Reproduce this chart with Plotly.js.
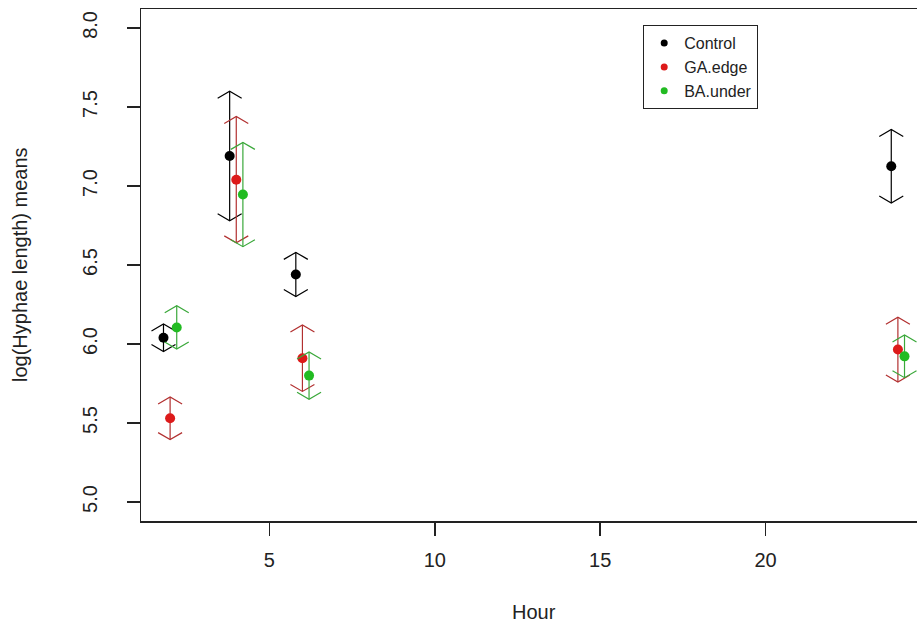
<!DOCTYPE html>
<html>
<head>
<meta charset="utf-8">
<script src="https://cdn.plot.ly/plotly-3.0.1.min.js"></script>
<style>
html, body { margin: 0; padding: 0; overflow: hidden; background: #fff; }
#chart { width: 940px; height: 627px; }
</style>
</head>
<body>
<div id="chart"></div>
<script>
// ---- data ----
const seriesNames = ["Control", "GA.edge", "BA.under"];
const xControl = [1.8, 3.8, 5.8, 23.8];
const xGA      = [2.0, 4.0, 6.0, 24.0];
const xBA      = [2.2, 4.2, 6.2, 24.2];
const meanControl = [6.04, 7.19, 6.44, 7.125];
const meanGA      = [5.53, 7.04, 5.91, 5.965];
const meanBA      = [6.105, 6.946, 5.80, 5.922];
const errControl = [0.087, 0.41, 0.14, 0.233];
const errGA      = [0.135, 0.40, 0.21, 0.205];
const errBA      = [0.137, 0.33, 0.15, 0.135];
const xTicks = [5, 10, 15, 20];
const yTicks = [5.0, 5.5, 6.0, 6.5, 7.0, 7.5, 8.0];
const yTickText = ["5.0", "5.5", "6.0", "6.5", "7.0", "7.5", "8.0"];

// ---- styling ----
const pointColors = ["#000000", "#dd1a1a", "#22bb22"];
const lineColors  = ["#000000", "#b23030", "#3aa83a"];
const xRange = [1.12, 24.88];
const yRange = [4.88, 8.12];
const plotW = 786, plotH = 512;
const headHalfWpx = 12, headHpx = 7;
const dx = headHalfWpx * (xRange[1] - xRange[0]) / plotW;
const dy = headHpx * (yRange[1] - yRange[0]) / plotH;

function arrowTrace(xs, ms, es, color) {
  const X = [], Y = [];
  for (let i = 0; i < xs.length; i++) {
    const x = xs[i], hi = ms[i] + es[i], lo = ms[i] - es[i];
    X.push(x, x, null); Y.push(lo, hi, null);
    X.push(x - dx, x, x + dx, null); Y.push(hi - dy, hi, hi - dy, null);
    X.push(x - dx, x, x + dx, null); Y.push(lo + dy, lo, lo + dy, null);
  }
  return { x: X, y: Y, type: "scatter", mode: "lines", showlegend: false, hoverinfo: "skip",
           line: { color: color, width: 1.2 }, connectgaps: false };
}
function pointTrace(xs, ms, color, name) {
  return { x: xs, y: ms, type: "scatter", mode: "markers", name: name, showlegend: false,
           marker: { color: color, size: 10, symbol: "circle" } };
}
function legendTrace(color, name) {
  return { x: [null], y: [null], type: "scatter", mode: "markers", name: name, showlegend: true,
           marker: { color: color, size: 7, symbol: "circle" } };
}

const xs = [xControl, xGA, xBA], ms = [meanControl, meanGA, meanBA], es = [errControl, errGA, errBA];
const data = [];
for (let s = 0; s < 3; s++) {
  data.push(arrowTrace(xs[s], ms[s], es[s], lineColors[s]));
  data.push(pointTrace(xs[s], ms[s], pointColors[s], seriesNames[s]));
}
for (let s = 0; s < 3; s++) data.push(legendTrace(pointColors[s], seriesNames[s]));

const font = "Liberation Sans, Arial, sans-serif";
const layout = {
  width: 940, height: 627,
  margin: { l: 141, r: 13, t: 9, b: 106, pad: 0 },
  paper_bgcolor: "#ffffff", plot_bgcolor: "#ffffff",
  font: { family: font, color: "#222222", size: 20 },
  showlegend: true,
  legend: {
    x: (643 - 141) / plotW, y: 1 - (25 - 9) / plotH, xanchor: "left", yanchor: "top",
    bgcolor: "#ffffff", bordercolor: "#222222", borderwidth: 1.2,
    font: { family: font, size: 16, color: "#222222" },
    tracegroupgap: 0
  },
  xaxis: {
    range: xRange, tickvals: xTicks, ticktext: xTicks.map(String),
    showgrid: false, zeroline: false, showline: true, mirror: true,
    linecolor: "#222222", linewidth: 1.5,
    ticks: "outside", ticklen: 13, tickwidth: 1.5, tickcolor: "#222222",
    tickfont: { size: 20, family: font, color: "#222222" },
    ticklabelstandoff: 7
  },
  yaxis: {
    range: yRange, tickvals: yTicks, ticktext: yTickText, tickangle: -90,
    showgrid: false, zeroline: false, showline: true, mirror: true,
    linecolor: "#222222", linewidth: 1.5,
    ticks: "outside", ticklen: 13, tickwidth: 1.5, tickcolor: "#222222",
    tickfont: { size: 20, family: font, color: "#222222" },
    ticklabelstandoff: 22
  },
  annotations: [
    { text: "Hour", xref: "paper", yref: "paper", x: 0.5, y: 0, xanchor: "center", yanchor: "middle",
      yshift: -91, showarrow: false, font: { size: 20, family: font, color: "#222222" } },
    { text: "log(Hyphae length) means", xref: "paper", yref: "paper", x: 0, y: 0.5,
      xanchor: "center", yanchor: "middle", xshift: -121, textangle: -90, showarrow: false,
      font: { size: 20, family: font, color: "#222222" } }
  ]
};

Plotly.newPlot("chart", data, layout, { displayModeBar: false, staticPlot: true });
</script>
</body>
</html>
